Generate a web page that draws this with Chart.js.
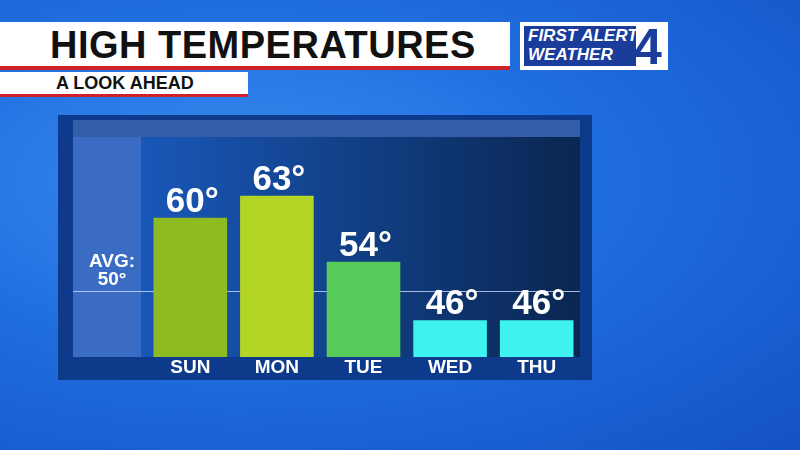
<!DOCTYPE html>
<html><head><meta charset="utf-8">
<script src="https://cdn.jsdelivr.net/npm/chart.js@4"></script>
<style>
body{margin:0;width:800px;height:450px;overflow:hidden;font-family:"Liberation Sans",Arial,sans-serif;
background:radial-gradient(ellipse at 30% 40%,#3b8cf0 0%,#1f6ee0 45%,#1452c4 100%);position:relative}
.t1{position:absolute;left:0;top:22px;width:510px;height:44px;background:#fff;border-bottom:4px solid #d0202a}
.t1 span{position:absolute;left:50px;top:2px;font-size:38px;font-weight:bold;color:#111;letter-spacing:0.5px}
.t2{position:absolute;left:0;top:72px;width:248px;height:22px;background:#fff;border-bottom:3px solid #d0202a}
.t2 span{position:absolute;left:56px;top:1px;font-size:18px;font-weight:bold;color:#111}
.logo{position:absolute;left:520px;top:22px;width:148px;height:48px;background:#fff}
.logo .a{position:absolute;left:4px;top:4px;width:112px;height:40px;background:#1a3c9a}
.logo .b{position:absolute;left:8px;top:4px;color:#fff;font-weight:bold;font-style:italic;font-size:17px;line-height:19px}
.logo .c{position:absolute;left:114px;top:-4px;color:#1a3c9a;font-weight:bold;font-size:50px}
.panel{position:absolute;left:58px;top:115px;width:534px;height:265px;background:#0e3a8c}
canvas{position:absolute;left:0;top:0}
</style></head><body>
<div class="t1"><span>HIGH TEMPERATURES</span></div>
<div class="t2"><span>A LOOK AHEAD</span></div>
<div class="logo"><div class="a"></div><div class="b">FIRST ALERT<br>WEATHER</div><div class="c">4</div></div>
<div class="panel"><canvas id="c" width="534" height="265"></canvas></div>
<script>
const categories=["SUN","MON","TUE","WED","THU"];
const temps=[60,63,54,46,46];
const barColors=["#8fbb22","#b2d526","#57cb5a","#3ef3ef","#3ef3ef"];
const avgTemp=50;
const bg={id:'bg',beforeDraw(ch){const {ctx,chartArea:a}=ch;
 const L=15,e=83;
 const g=ctx.createLinearGradient(L,0,a.right,0);g.addColorStop(0,'#1b5fc8');g.addColorStop(1,'#0a2650');
 ctx.fillStyle=g;ctx.fillRect(L,a.top,a.right-L,a.bottom-a.top);
 ctx.fillStyle='rgba(120,160,220,0.35)';ctx.fillRect(L,a.top-17,a.right-L,17);
 ctx.fillStyle='#3a6cc4';ctx.fillRect(L,a.top,e-L,a.bottom-a.top);
 const y=ch.scales.y.getPixelForValue(avgTemp);
 ctx.strokeStyle='rgba(200,220,255,0.8)';ctx.lineWidth=1;ctx.beginPath();ctx.moveTo(L,y+0.5);ctx.lineTo(a.right,y+0.5);ctx.stroke();
 ctx.fillStyle='#fff';ctx.font='bold 19px "Liberation Sans"';ctx.textAlign='center';
 ctx.fillText('AVG:',(L+e)/2+5,y-24);ctx.fillText(avgTemp+'°',(L+e)/2+5,y-6);},
 afterDatasetsDraw(ch){const {ctx}=ch;const m=ch.getDatasetMeta(0);ctx.fillStyle='#fff';ctx.font='bold 35px "Liberation Sans"';ctx.textAlign='center';
 m.data.forEach((b,i)=>{ctx.fillText(temps[i]+'°',b.x+2,b.y-6);});}};
new Chart(document.getElementById('c'),{type:'bar',data:{labels:categories,datasets:[{data:temps,backgroundColor:barColors,categoryPercentage:1,barPercentage:0.85}]},
options:{responsive:false,animation:false,layout:{padding:{left:89,right:12,top:22,bottom:0}},
plugins:{legend:{display:false},tooltip:{enabled:false}},
scales:{x:{grid:{display:false},border:{display:false},afterFit(s){s.height=23;},ticks:{color:'#fff',font:{size:19,weight:'bold',family:'Liberation Sans'},padding:-9}},
y:{display:false,min:41,max:71}}},plugins:[bg]});
</script></body></html>
